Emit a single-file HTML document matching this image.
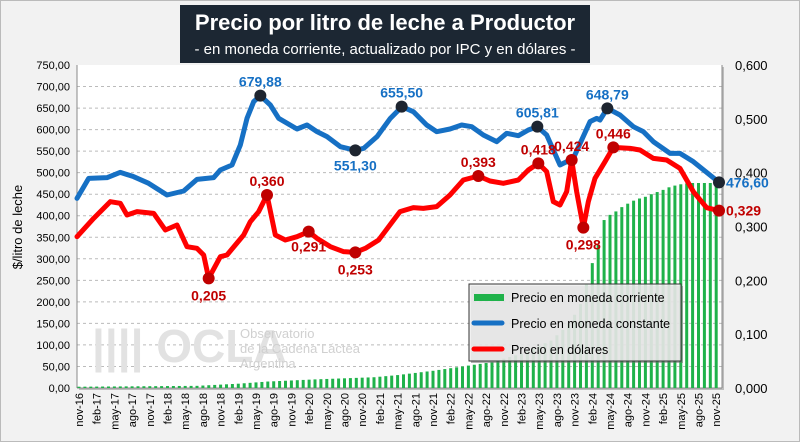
<!DOCTYPE html>
<html><head><meta charset="utf-8"><style>
body{margin:0;width:800px;height:442px;overflow:hidden;background:#fff;font-family:"Liberation Sans",sans-serif}
</style></head><body>
<svg id="s" width="800" height="442" xmlns="http://www.w3.org/2000/svg" font-family="Liberation Sans, sans-serif">
<rect x="0.5" y="0.5" width="799" height="441" fill="#f2f2f2" stroke="#bbb"/>
<rect x="180" y="5" width="410" height="58" fill="#1c2733"/>
<text x="385" y="30" text-anchor="middle" fill="#fff" font-size="22" font-weight="bold">Precio por litro de leche a Productor</text>
<text x="385" y="54" text-anchor="middle" fill="#fff" font-size="15">- en moneda  corriente, actualizado por IPC y en dólares -</text>
<rect x="79" y="67" width="645" height="323" fill="#888" opacity="0.5"/>
<rect x="77" y="65" width="645" height="323" fill="#fff"/>
<g id="g"></g>
</svg>
<script>
var s=document.getElementById('g'),NS='http://www.w3.org/2000/svg';
function el(t,a,txt){var e=document.createElementNS(NS,t);for(var k in a)e.setAttribute(k,a[k]);if(txt!=null)e.textContent=txt;s.appendChild(e);return e;}
var T=65,B=388,L=77,R=722,k=(B-T)/750;
function Y(v){return B-v*k}function X(i){return 79+5.9*i}
for(var v=0;v<=750;v+=50){var y=Y(v);if(v>0&&v<750)el('line',{x1:L,x2:R,y1:y,y2:y,stroke:'#bbb','stroke-dasharray':'3,3'});
el('text',{x:70,y:y+4,'text-anchor':'end','font-size':11,fill:'#000'},v.toFixed(2).replace('.',','));}
for(var j=0;j<=6;j++){var y=Y(j*125);el('text',{x:735,y:y+5,'font-size':13,fill:'#000'},(j/10).toFixed(3).replace('.',','));}
el('line',{x1:L,x2:L,y1:T,y2:B,stroke:'#888'});el('line',{x1:R,x2:R,y1:T,y2:B,stroke:'#888'});el('line',{x1:L,x2:R,y1:B,y2:B,stroke:'#888'});
el('text',{transform:'translate(22,227) rotate(-90)','text-anchor':'middle','font-size':13},'$/litro de leche');
var M=['nov','feb','may','ago'];
for(var i=0;i<=108;i+=3){var yr=16+Math.floor((i+10)/12);el('text',{transform:'translate('+(X(i)+4)+',393) rotate(-90)','text-anchor':'end','font-size':11},M[(i/3)%4]+'-'+yr);}
function interp(p){var o=[];for(var a=0;a<p.length-1;a++){var i0=p[a][0],i1=p[a+1][0];for(var i=i0;i<i1;i++)o.push(p[a][1]+(p[a+1][1]-p[a][1])*(i-i0)/(i1-i0));}o.push(p[p.length-1][1]);return o;}
var G=interp([[0,3],[20,5],[27,10],[32,15],[40,20],[50,25],[54,30],[60,40],[70,60],[75,80],[80,110],[82,135],[83,150],[84,170],[85,195],[86,240],[87,290],[88,333],[89,390],[90,402],[91,410],[92,420],[93,428],[94,435],[95,440],[96,444],[97,450],[98,455],[99,460],[100,466],[101,470],[102,473],[103,475],[104,476],[108,476]]);
for(var i=0;i<G.length;i++)el('rect',{x:X(i)-1.5,y:Y(G[i]),width:3,height:G[i]*k,fill:'#1fb24a'});
function cv(z,ox){return z.map(function(p){return [ox+p[0]/3,65+p[1]/3]});}
var blue=cv([[0,400],[35,340],[90,338],[130,322],[170,335],[215,355],[270,390],[320,378],[360,343],[410,338],[430,315],[465,300],[490,240],[510,160],[530,110],[550,92],[580,120],[605,160],[660,192],[690,180],[720,200],[750,215],[790,245],[835,256],[860,250],[900,215],[940,160],[975,125]],77).concat(cv([[40,140],[80,180],[110,200],[150,192],[185,180],[215,185],[250,210],[290,230],[320,205],[355,212],[385,195],[412,185],[440,210],[480,300],[520,280],[570,170],[590,160],[600,165],[622,130],[660,150],[700,185],[730,200],[760,230],[810,265],[840,265],[880,290],[957,352]],400));
var red=cv([[0,515],[50,460],[100,410],[130,415],[150,450],[180,440],[230,445],[265,495],[300,480],[330,545],[360,550],[380,570],[395,640],[430,575],[450,570],[500,510],[520,470],[545,440],[570,390],[595,510],[625,525],[660,515],[695,500],[720,520],[760,545],[800,560],[835,562],[865,550],[905,525],[950,465]],77).concat(cv([[0,440],[40,428],[70,430],[110,425],[150,390],[190,345],[235,333],[270,348],[310,355],[355,345],[385,315],[415,295],[440,320],[460,410],[480,420],[500,380],[515,285],[530,380],[550,488],[565,410],[585,340],[615,290],[640,247],[690,250],[720,255],[760,280],[800,285],[840,310],[860,345],[880,380],[920,428],[957,437]],400));
function line(d,c){el('polyline',{points:d.map(function(p){return p[0]+','+p[1]}).join(' '),fill:'none',stroke:c,'stroke-width':5,'stroke-linejoin':'round','stroke-linecap':'round'});}
line(blue,'#1670c4');line(red,'#ff0000');
function mk(zx,zy,ox,c,t,dx,dy,tc){var x=ox+zx/3,y=65+zy/3;el('circle',{cx:x,cy:y,r:6,fill:c});el('text',{x:x+dx,y:y+dy,'text-anchor':dx?'start':'middle','font-size':14,'font-weight':'bold',fill:tc},t);}
var b='#1670c4',bk='#1e2530',r='#c00000';
mk(550,92,77,bk,'679,88',0,-9,b);mk(835,256,77,bk,'551,30',0,20,b);mk(5,125,400,bk,'655,50',0,-9,b);mk(412,185,400,bk,'605,81',0,-9,b);mk(622,130,400,bk,'648,79',0,-9,b);mk(957,352,400,bk,'476,60',7,5,b);
mk(395,640,77,r,'0,205',0,22,r);mk(570,390,77,r,'0,360',0,-9,r);mk(695,500,77,r,'0,291',0,20,r);mk(835,562,77,r,'0,253',0,22,r);
mk(235,333,400,r,'0,393',0,-9,r);mk(415,295,400,r,'0,418',0,-9,r);mk(515,285,400,r,'0,424',0,-9,r);mk(550,488,400,r,'0,298',0,22,r);mk(640,247,400,r,'0,446',0,-9,r);mk(957,437,400,r,'0,329',7,5,r);
el('text',{x:92,y:362,'font-size':46,'font-weight':'bold',fill:'#e2e2e2'},'|||| OCLA');
el('text',{x:240,y:338,'font-size':13,fill:'#d0d0d0'},'Observatorio');el('text',{x:240,y:353,'font-size':13,fill:'#d0d0d0'},'de la Cadena Láctea');el('text',{x:240,y:368,'font-size':13,fill:'#d0d0d0'},'Argentina');
el('rect',{x:471,y:286,width:212,height:77,fill:'#666',opacity:0.5});
el('rect',{x:469,y:284,width:212,height:77,fill:'#eee',stroke:'#333','fill-opacity':0.85});
var lg=[['#1fb24a','Precio en moneda corriente',1],['#1670c4','Precio en moneda constante',0],['#ff0000','Precio en dólares',0]];
lg.forEach(function(q,n){var y=297+n*26;if(q[2])el('rect',{x:474,y:y-3,width:30,height:7,fill:q[0]});else el('line',{x1:474,x2:502,y1:y,y2:y,stroke:q[0],'stroke-width':5,'stroke-linecap':'round'});el('text',{x:511,y:y+5,'font-size':12.5},q[1]);});
</script>
</body></html>
